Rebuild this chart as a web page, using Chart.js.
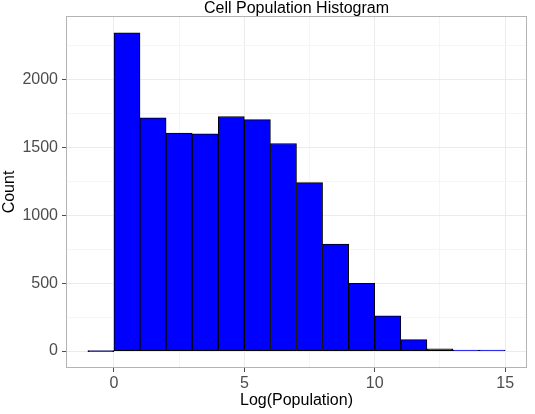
<!DOCTYPE html>
<html>
<head>
<meta charset="utf-8">
<script src="https://cdn.jsdelivr.net/npm/chart.js@4/dist/chart.umd.min.js"></script>
<style>
  html, body { margin: 0; padding: 0; background: #ffffff; }
  #wrap { width: 535px; height: 414px; position: relative; }
</style>
</head>
<body>
<div id="wrap"><canvas id="c" width="535" height="414"></canvas></div>
<script>
// ---- data ----
const binCenters = [-0.5, 0.5, 1.5, 2.5, 3.5, 4.5, 5.5, 6.5, 7.5, 8.5, 9.5, 10.5, 11.5, 12.5, 13.5, 14.5];
const counts     = [0, 2345, 1720, 1607, 1601, 1729, 1706, 1530, 1242, 788, 500, 259, 85, 16, 5, 2];
const xTickLabels = [0, 5, 10, 15];
const yTickLabels = [0, 500, 1000, 1500, 2000];
const titleText = 'Cell Population Histogram';
const xTitle = 'Log(Population)';
const yTitle = 'Count';

// ggplot-like 5% expansion of the axis ranges
const binWidth = 1;
const xLo = binCenters[0] - binWidth / 2, xHi = binCenters[binCenters.length - 1] + binWidth / 2;
const xPad = (xHi - xLo) * 0.05;
const yMaxData = Math.max(...counts), yMinData = Math.min(0, ...counts);
const yPad = (yMaxData - yMinData) * 0.05;

const FONT = "'Liberation Sans', Arial, Helvetica, sans-serif";

const panelBorder = {
  id: 'panelBorder',
  afterDatasetsDraw(chart) {
    const a = chart.chartArea, ctx = chart.ctx;
    ctx.save();
    ctx.strokeStyle = '#b3b3b3';
    ctx.lineWidth = 1;
    ctx.strokeRect(a.left - 0.5, a.top - 0.5, a.right - a.left + 1, a.bottom - a.top + 1);
    ctx.restore();
  }
};

const isMajorX = v => xTickLabels.some(t => Math.abs(t - v) < 1e-9);
const isMajorY = v => yTickLabels.some(t => Math.abs(t - v) < 1e-9);

new Chart(document.getElementById('c'), {
  type: 'bar',
  data: {
    datasets: [{
      data: binCenters.map((x, i) => ({ x: x, y: counts[i] })),
      backgroundColor: '#0000ff',
      borderColor: '#000000',
      borderWidth: 1,
      borderSkipped: false,
      minBarLength: 1,
      barPercentage: 1,
      categoryPercentage: 1
    }]
  },
  options: {
    responsive: false,
    animation: false,
    devicePixelRatio: 1,
    layout: { padding: { left: 0, right: 9, top: 0, bottom: 0 } },
    plugins: {
      legend: { display: false },
      tooltip: { enabled: false },
      title: {
        display: true,
        text: titleText,
        fullSize: false,
        color: '#000000',
        font: { family: FONT, size: 16, weight: 'normal', lineHeight: 1.0625 },
        padding: { top: 0, bottom: 0 }
      }
    },
    scales: {
      x: {
        type: 'linear',
        offset: false,
        min: xLo - xPad,
        max: xHi + xPad,
        afterFit(scale) { scale.height = 47; },
        border: { display: false },
        grid: {
          offset: false,
          color: ctx => isMajorX(ctx.tick.value) ? '#ebebeb' : '#f5f5f5',
          lineWidth: 1,
          tickLength: 5,
          tickColor: ctx => isMajorX(ctx.tick.value) ? '#4d4d4d' : 'rgba(0,0,0,0)',
          tickWidth: 1
        },
        ticks: {
          stepSize: 2.5,
          includeBounds: false,
          autoSkip: false,
          maxRotation: 0,
          padding: 2,
          color: '#4d4d4d',
          font: { family: FONT, size: 16 },
          callback: v => isMajorX(v) ? String(v) : ''
        },
        title: {
          display: true,
          text: xTitle,
          color: '#000000',
          font: { family: FONT, size: 16 },
          padding: { top: 0, bottom: 4 }
        }
      },
      y: {
        type: 'linear',
        min: yMinData - yPad,
        max: yMaxData + yPad,
        afterFit(scale) { scale.width = 67; },
        border: { display: false },
        grid: {
          color: ctx => isMajorY(ctx.tick.value) ? '#ebebeb' : '#f5f5f5',
          lineWidth: 1,
          tickLength: 5,
          tickColor: ctx => isMajorY(ctx.tick.value) ? '#4d4d4d' : 'rgba(0,0,0,0)',
          tickWidth: 1
        },
        ticks: {
          stepSize: 250,
          includeBounds: false,
          autoSkip: false,
          padding: 4,
          color: '#4d4d4d',
          font: { family: FONT, size: 16 },
          callback: v => isMajorY(v) ? String(v) : ''
        },
        title: {
          display: true,
          text: yTitle,
          color: '#000000',
          font: { family: FONT, size: 16 },
          padding: { top: 0, bottom: 0 }
        }
      }
    }
  },
  plugins: [panelBorder]
});
</script>
</body>
</html>
